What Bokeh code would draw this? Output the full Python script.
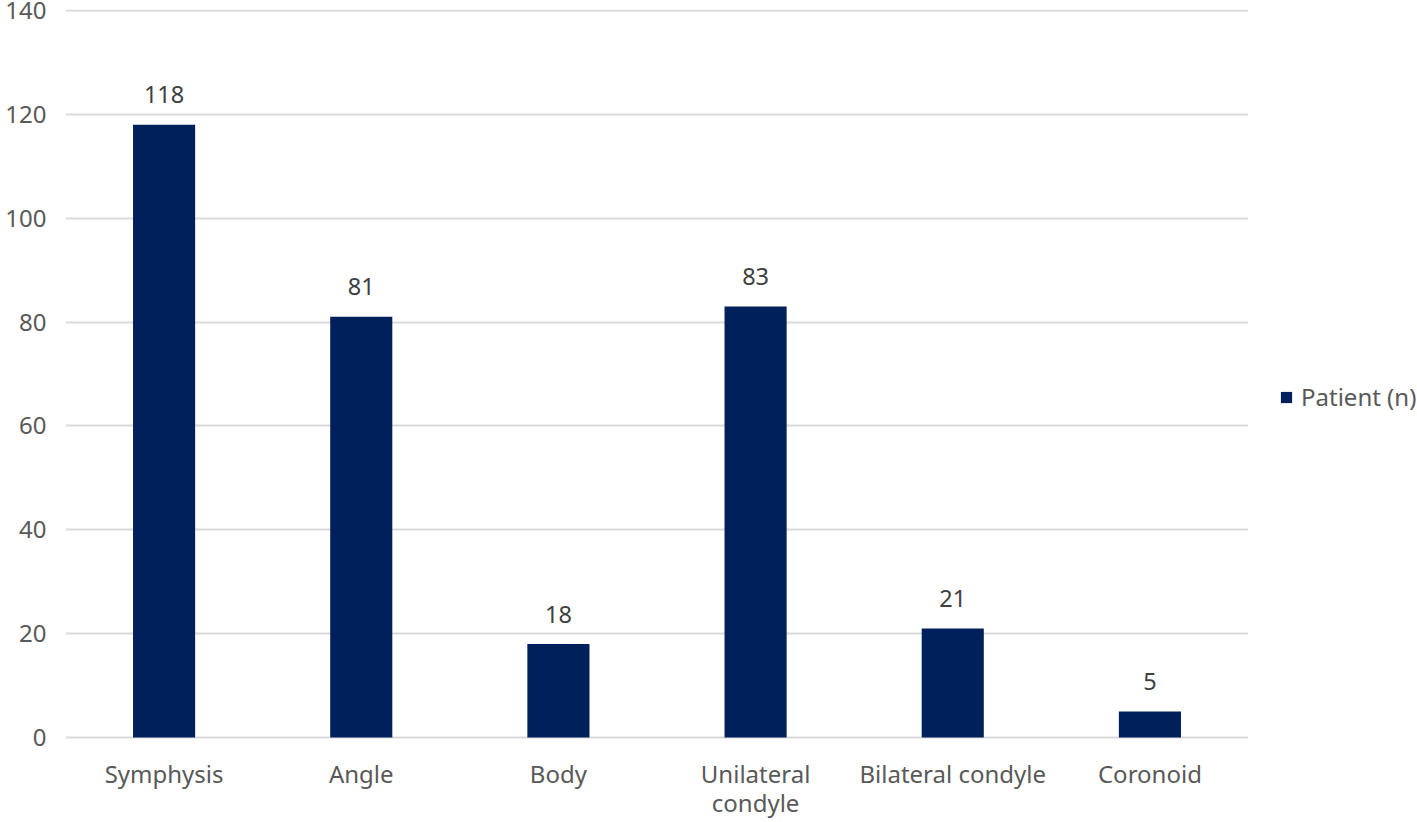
from bokeh.plotting import figure
from bokeh.layouts import row
from bokeh.models import ColumnDataSource, Legend, LegendItem, Range1d, FactorRange, FixedTicker
from bokeh.core.properties import value
from bokeh.embed import file_html
from bokeh.resources import INLINE

categories = ["Symphysis", "Angle", "Body", "Unilateral condyle", "Bilateral condyle", "Coronoid"]
category_labels = ["Symphysis", "Angle", "Body", "Unilateral\ncondyle", "Bilateral condyle", "Coronoid"]
patients = [118, 81, 18, 83, 21, 5]
y_ticks = [0, 20, 40, 60, 80, 100, 120, 140]
series_name = "Patient (n)"

FONT = "Noto Sans"
BAR = "#00205B"
source = ColumnDataSource(dict(cat=categories, val=patients, lab=[str(v) for v in patients],
                               xlab=category_labels, zero=[0] * len(categories)))

# the frame runs down to the bottom edge so the category labels (drawn as text) are not clipped
xr = FactorRange(*categories)
yr = Range1d(-16.37, 140.19)
p = figure(x_range=xr, y_range=yr,
           width=1248, height=822, output_backend="svg", toolbar_location=None,
           min_border_left=65, min_border_right=0, min_border_top=9, min_border_bottom=0)
p.outline_line_color = None
p.background_fill_color = "white"

r = p.vbar(x="cat", top="val", width=0.315, source=source, fill_color=BAR, line_color=None)
p.text(x="cat", y="val", text="lab", source=source, y_offset=-30,
       text_align="center", text_baseline="middle", text_font=value(FONT),
       text_font_size="23.5px", text_color="#404040")
p.text(x="cat", y="zero", text="xlab", source=source, y_offset=20,
       text_align="center", text_baseline="top", text_font=value(FONT),
       text_font_size="24px", text_color="#595959", text_line_height=0.85)

p.yaxis.ticker = FixedTicker(ticks=y_ticks)
p.yaxis.axis_line_color = None
p.yaxis.major_tick_line_color = None
p.yaxis.major_tick_out = 0
p.yaxis.major_tick_in = 0
p.yaxis.minor_tick_line_color = None
p.yaxis.major_label_text_font = FONT
p.yaxis.major_label_text_font_size = "24px"
p.yaxis.major_label_text_color = "#595959"
p.yaxis.major_label_standoff = 19

p.xaxis.visible = False
p.xgrid.grid_line_color = None
p.ygrid.grid_line_color = "#D9D9D9"
p.ygrid.grid_line_width = 2

# legend area to the right of the chart
p2 = figure(x_range=xr, y_range=yr, width=169, height=822, output_backend="svg",
            toolbar_location=None, min_border=0)
p2.outline_line_color = None
p2.axis.visible = False
p2.grid.visible = False
r2 = p2.vbar(x="cat", top="val", width=0.315, source=source, fill_color=BAR, line_color=None,
             visible=False)
legend = Legend(items=[LegendItem(label=series_name, renderers=[r2])],
                location=(31, 409), background_fill_alpha=0, border_line_color=None,
                label_text_font=FONT, label_text_font_size="24px", label_text_color="#595959",
                glyph_width=14, glyph_height=14, label_standoff=8, padding=0, margin=0)
p2.add_layout(legend, "center")

open("out.html", "w").write(file_html(row(p, p2), INLINE))
